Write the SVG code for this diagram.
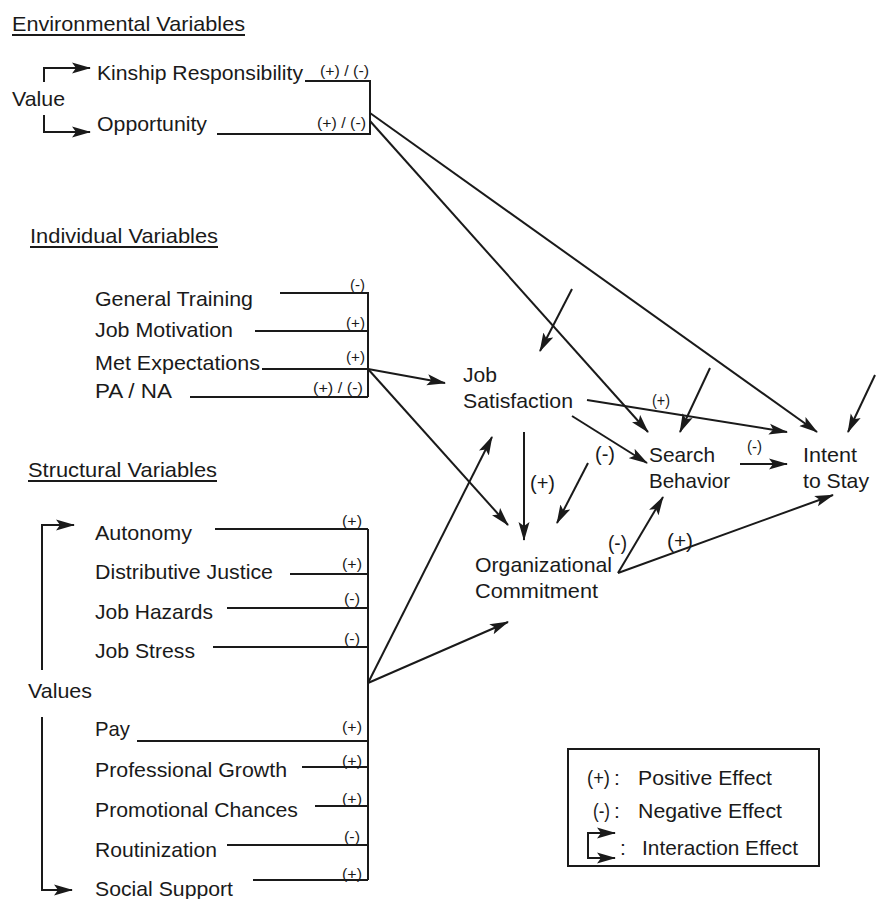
<svg xmlns="http://www.w3.org/2000/svg" width="876" height="899" viewBox="0 0 876 899">
<style>
text{font-family:"Liberation Sans",Arial,sans-serif;fill:#1a1a1a}
.t{font-size:21px}
.s{font-size:14px}
.m{font-size:16px}
.b{font-size:21px}
.ln{stroke:#1a1a1a;stroke-width:2;fill:none}
.ar{stroke:#1a1a1a;stroke-width:2;fill:none;marker-end:url(#ah)}
</style>
<defs>
<marker id="ah" markerUnits="userSpaceOnUse" markerWidth="20" markerHeight="12" refX="18" refY="6" orient="auto">
<path d="M0,0.5 L19,6 L0,11.5 L4,6 Z" fill="#1a1a1a"/>
</marker>
</defs>
<rect width="876" height="899" fill="#fff"/>

<g id="headings">
<text class="t" x="12" y="31" textLength="233" lengthAdjust="spacingAndGlyphs">Environmental Variables</text>
<line class="ln" x1="12" y1="35" x2="245" y2="35" stroke-width="1.5"/>
<text class="t" x="30" y="243" textLength="188" lengthAdjust="spacingAndGlyphs">Individual Variables</text>
<line class="ln" x1="30" y1="247" x2="218" y2="247" stroke-width="1.5"/>
<text class="t" x="28" y="477" textLength="189" lengthAdjust="spacingAndGlyphs">Structural Variables</text>
<line class="ln" x1="28" y1="481" x2="217" y2="481" stroke-width="1.5"/>
</g>

<g id="env-vars">
<text class="t" x="12" y="106" textLength="53" lengthAdjust="spacingAndGlyphs">Value</text>
<text class="t" x="97" y="80" textLength="206" lengthAdjust="spacingAndGlyphs">Kinship Responsibility</text>
<text class="t" x="97" y="131" textLength="110" lengthAdjust="spacingAndGlyphs">Opportunity</text>
<text class="s" x="320" y="76" textLength="49" lengthAdjust="spacingAndGlyphs">(+) / (-)</text>
<text class="s" x="317" y="128" textLength="49" lengthAdjust="spacingAndGlyphs">(+) / (-)</text>
</g>

<g id="ind-vars">
<text class="t" x="95" y="306" textLength="158" lengthAdjust="spacingAndGlyphs">General Training</text>
<text class="t" x="95" y="337" textLength="138" lengthAdjust="spacingAndGlyphs">Job Motivation</text>
<text class="t" x="95" y="370" textLength="165" lengthAdjust="spacingAndGlyphs">Met Expectations</text>
<text class="t" x="95" y="398" textLength="77" lengthAdjust="spacingAndGlyphs">PA / NA</text>
<text class="s" x="350" y="290" textLength="15" lengthAdjust="spacingAndGlyphs">(-)</text>
<text class="s" x="346" y="328" textLength="19" lengthAdjust="spacingAndGlyphs">(+)</text>
<text class="s" x="346" y="362" textLength="19" lengthAdjust="spacingAndGlyphs">(+)</text>
<text class="s" x="313" y="393" textLength="50" lengthAdjust="spacingAndGlyphs">(+) / (-)</text>
</g>

<g id="struct-vars">
<text class="t" x="28" y="698" textLength="64" lengthAdjust="spacingAndGlyphs">Values</text>
<text class="t" x="95" y="540" textLength="97" lengthAdjust="spacingAndGlyphs">Autonomy</text>
<text class="t" x="95" y="579" textLength="178" lengthAdjust="spacingAndGlyphs">Distributive Justice</text>
<text class="t" x="95" y="619" textLength="118" lengthAdjust="spacingAndGlyphs">Job Hazards</text>
<text class="t" x="95" y="658" textLength="100" lengthAdjust="spacingAndGlyphs">Job Stress</text>
<text class="t" x="95" y="736" textLength="35" lengthAdjust="spacingAndGlyphs">Pay</text>
<text class="t" x="95" y="777" textLength="192" lengthAdjust="spacingAndGlyphs">Professional Growth</text>
<text class="t" x="95" y="817" textLength="203" lengthAdjust="spacingAndGlyphs">Promotional Chances</text>
<text class="t" x="95" y="857" textLength="122" lengthAdjust="spacingAndGlyphs">Routinization</text>
<text class="t" x="95" y="896" textLength="138" lengthAdjust="spacingAndGlyphs">Social Support</text>
<text class="s" x="342" y="526" textLength="20" lengthAdjust="spacingAndGlyphs">(+)</text>
<text class="s" x="342" y="569" textLength="20" lengthAdjust="spacingAndGlyphs">(+)</text>
<text class="s" x="344" y="604" textLength="16" lengthAdjust="spacingAndGlyphs">(-)</text>
<text class="s" x="344" y="644" textLength="16" lengthAdjust="spacingAndGlyphs">(-)</text>
<text class="s" x="342" y="732" textLength="20" lengthAdjust="spacingAndGlyphs">(+)</text>
<text class="s" x="342" y="766" textLength="20" lengthAdjust="spacingAndGlyphs">(+)</text>
<text class="s" x="342" y="804" textLength="20" lengthAdjust="spacingAndGlyphs">(+)</text>
<text class="s" x="344" y="842" textLength="16" lengthAdjust="spacingAndGlyphs">(-)</text>
<text class="s" x="342" y="879" textLength="20" lengthAdjust="spacingAndGlyphs">(+)</text>
</g>

<g id="job-satisfaction">
<text class="t" x="463" y="382" textLength="34" lengthAdjust="spacingAndGlyphs">Job</text>
<text class="t" x="463" y="408" textLength="110" lengthAdjust="spacingAndGlyphs">Satisfaction</text>
</g>
<g id="search-behavior">
<text class="t" x="649" y="462" textLength="66" lengthAdjust="spacingAndGlyphs">Search</text>
<text class="t" x="649" y="488" textLength="81" lengthAdjust="spacingAndGlyphs">Behavior</text>
</g>
<g id="intent-to-stay">
<text class="t" x="803" y="462" textLength="54" lengthAdjust="spacingAndGlyphs">Intent</text>
<text class="t" x="803" y="488" textLength="66" lengthAdjust="spacingAndGlyphs">to Stay</text>
</g>
<g id="org-commitment">
<text class="t" x="475" y="572" textLength="137" lengthAdjust="spacingAndGlyphs">Organizational</text>
<text class="t" x="475" y="598" textLength="123" lengthAdjust="spacingAndGlyphs">Commitment</text>
</g>

<g id="connectors">
<path class="ar" d="M44 82 V68 H90"/>
<path class="ar" d="M44 115 V132 H90"/>
<path class="ln" d="M305 81 H370 V134 H217"/>
<path class="ar" d="M370 121 L648 432"/>
<path class="ar" d="M370 113 L817 432"/>
<path class="ln" d="M280 293 H368 M255 331 H368 M262 369 H368 M190 397 H368 M368 292 V397"/>
<path class="ar" d="M368 369 L445 383"/>
<path class="ar" d="M368 369 L508 525"/>
<path class="ln" d="M215 529 H368 M290 574 H368 M227 608 H368 M213 647 H368 M137 741 H368 M302 767 H368 M315 806 H368 M227 845 H368 M253 880 H368 M368 529 V880"/>
<path class="ar" d="M42 670 V525 H74"/>
<path class="ar" d="M42 717 V890 H72"/>
<path class="ar" d="M368 683 L492 437"/>
<path class="ar" d="M368 683 L508 622"/>
<path class="ar" d="M572 289 L540 351"/>
<path class="ar" d="M587 400 L787 432"/>
<path class="ar" d="M572 416 L647 463"/>
<path class="ar" d="M710 368 L680 432"/>
<path class="ar" d="M875 375 L848 432"/>
<path class="ar" d="M740 464 L787 464"/>
<path class="ar" d="M524 432 L524 540"/>
<path class="ar" d="M588 463 L557 523"/>
<path class="ar" d="M618 573 L663 497"/>
<path class="ar" d="M618 573 L833 495"/>
<text class="m" x="652" y="406" textLength="18" lengthAdjust="spacingAndGlyphs">(+)</text>
<text class="m" x="747" y="452" textLength="15" lengthAdjust="spacingAndGlyphs">(-)</text>
<text class="b" x="530" y="490" textLength="25" lengthAdjust="spacingAndGlyphs">(+)</text>
<text class="b" x="595" y="461" textLength="20" lengthAdjust="spacingAndGlyphs">(-)</text>
<text class="b" x="608" y="550" textLength="19" lengthAdjust="spacingAndGlyphs">(-)</text>
<text class="b" x="667" y="548" textLength="26" lengthAdjust="spacingAndGlyphs">(+)</text>
</g>

<g id="legend">
<rect x="568" y="749" width="251" height="117" fill="none" stroke="#1a1a1a" stroke-width="2"/>
<text class="t" x="587" y="785" textLength="23" lengthAdjust="spacingAndGlyphs">(+)</text>
<text class="t" x="614" y="785">:</text>
<text class="t" x="638" y="785" textLength="134" lengthAdjust="spacingAndGlyphs">Positive Effect</text>
<text class="t" x="593" y="818" textLength="17" lengthAdjust="spacingAndGlyphs">(-)</text>
<text class="t" x="614" y="818">:</text>
<text class="t" x="638" y="818" textLength="144" lengthAdjust="spacingAndGlyphs">Negative Effect</text>
<path class="ar" d="M588 846 V833 H615"/>
<path class="ar" d="M588 846 V858 H615"/>
<text class="t" x="620" y="855">:</text>
<text class="t" x="642" y="855" textLength="156" lengthAdjust="spacingAndGlyphs">Interaction Effect</text>
</g>
</svg>
